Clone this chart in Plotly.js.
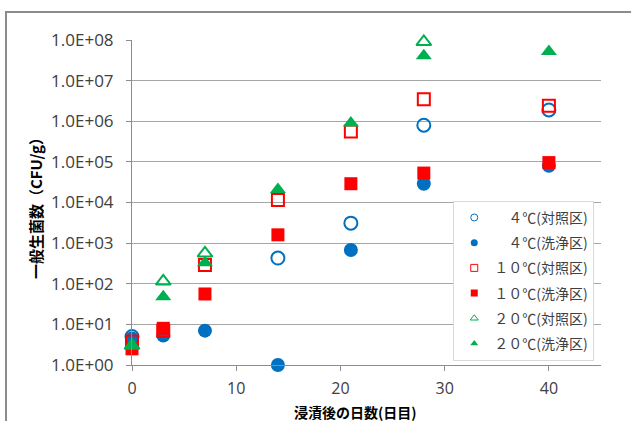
<!DOCTYPE html>
<html><head><meta charset="utf-8">
<script src="https://cdn.plot.ly/plotly-3.0.1.min.js"></script>
<style>html,body{margin:0;padding:0;background:#fff;}#wrap{position:relative;width:631px;height:421px;overflow:hidden;}#frame{position:absolute;left:5px;top:11px;width:640px;height:430px;border-left:2px solid #8c8c8c;border-top:2px solid #8c8c8c;pointer-events:none;}</style>
</head><body><div id="wrap"><div id="chart" style="width:631px;height:421px;"></div><div id="frame"></div></div>
<script>
const days = [0, 3, 7, 14, 21, 28, 40];
const seriesNames = ['　４℃(対照区)', '　４℃(洗浄区)', '１０℃(対照区)', '１０℃(洗浄区)', '２０℃(対照区)', '２０℃(洗浄区)'];
const c4_control = [5, null, null, 430, 3100, 8.0e5, 1.9e6];
const c4_washed = [4.5, 5.3, 7, 1, 680, 2.9e4, 8.0e4];
const c10_control = [3.8, 7, 290, 1.15e4, 5.6e5, 3.5e6, 2.4e6];
const c10_washed = [2.5, 8, 56, 1600, 2.9e4, 5.3e4, 9.6e4];
const c20_control = [3, 115, 560, null, null, 9.0e7, null];
const c20_washed = [3, 48, 330, 2.1e4, 9.0e5, 4.1e7, 5.2e7];
const yTickVals = [1, 10, 100, 1e3, 1e4, 1e5, 1e6, 1e7, 1e8];
const yTickText = ['1.0E+00','1.0E+01','1.0E+02','1.0E+03','1.0E+04','1.0E+05','1.0E+06','1.0E+07','1.0E+08'];
const xTickVals = [0, 10, 20, 30, 40];
const xTitle = '浸漬後の日数(日目)';
const yTitle = '一般生菌数（CFU/g）';

const blue = '#0070C0', red = '#FF0000', green = '#00B050';
const styles = [
  ['circle-open', blue, 13], ['circle', blue, 14],
  ['square-open', red, 12], ['square', red, 13],
  ['triangle-up-open', green, 13], ['triangle-up', green, 14]
];
const values = [c4_control, c4_washed, c10_control, c10_washed, c20_control, c20_washed];
const data = [];
values.forEach((y, i) => {
  const [sym, col, size] = styles[i];
  const open = sym.indexOf('open') >= 0;
  data.push({x: days, y: y, name: seriesNames[i], type: 'scatter', mode: 'markers', showlegend: false, cliponaxis: false,
    marker: {symbol: sym, size: size, color: col, line: {color: col, width: open ? 2 : 0}}});
});
// legend-only entries with the smaller legend markers
values.forEach((y, i) => {
  const [sym, col] = styles[i];
  const open = sym.indexOf('open') >= 0;
  data.push({x: [null], y: [null], name: seriesNames[i], type: 'scatter', mode: 'markers', legendgroup: 'g' + i,
    marker: {symbol: sym, size: 7, color: col, line: {color: col, width: open ? 1 : 0}}});
});
const layout = {
  width: 631, height: 421,
  margin: {l: 132, r: 30, t: 40, b: 56},
  paper_bgcolor: '#fff', plot_bgcolor: '#fff',
  font: {family: '"Noto Sans CJK JP", "Open Sans", sans-serif', color: '#333', size: 13},
  showlegend: true,
  legend: {x: 0.685, y: 0.505, xanchor: 'left', yanchor: 'top', bgcolor: '#fff', bordercolor: '#d9d9d9', borderwidth: 1,
    font: {size: 14, color: '#404040', family: '"Noto Sans CJK JP", sans-serif'}, itemsizing: 'trace', tracegroupgap: 4, itemwidth: 30},
  xaxis: {range: [0, 45], tickvals: xTickVals, ticks: 'outside', ticklen: 5, tickcolor: '#8c8c8c', ticklabelstandoff: 4,
    showgrid: false, zeroline: false, showline: true, linecolor: '#8c8c8c', linewidth: 1,
    tickfont: {family: '"Open Sans", sans-serif', size: 16, color: '#404040'}},
  yaxis: {type: 'log', range: [0, 8], tickvals: yTickVals, ticktext: yTickText, ticks: 'outside', ticklen: 5, tickcolor: '#8c8c8c', ticklabelstandoff: 9,
    showgrid: true, gridcolor: '#a6a6a6', gridwidth: 1, zeroline: false, showline: true, linecolor: '#8c8c8c', linewidth: 1,
    tickfont: {family: '"Open Sans", sans-serif', size: 17, color: '#404040'}},
  annotations: [
    {text: xTitle, xref: 'paper', yref: 'paper', x: 0.4755, y: -0.1446, xanchor: 'center', yanchor: 'middle', showarrow: false,
      font: {size: 14, color: '#000', family: '"Noto Sans CJK JP", sans-serif', weight: 'bold'}},
    {text: yTitle, xref: 'paper', yref: 'paper', x: -0.2068, y: 0.492, xanchor: 'center', yanchor: 'middle', showarrow: false, textangle: -90,
      font: {size: 15, color: '#000', family: '"Noto Sans CJK JP", sans-serif', weight: 'bold'}}
  ]
};
Plotly.newPlot('chart', data, layout, {displayModeBar: false, staticPlot: true});
</script></body></html>
